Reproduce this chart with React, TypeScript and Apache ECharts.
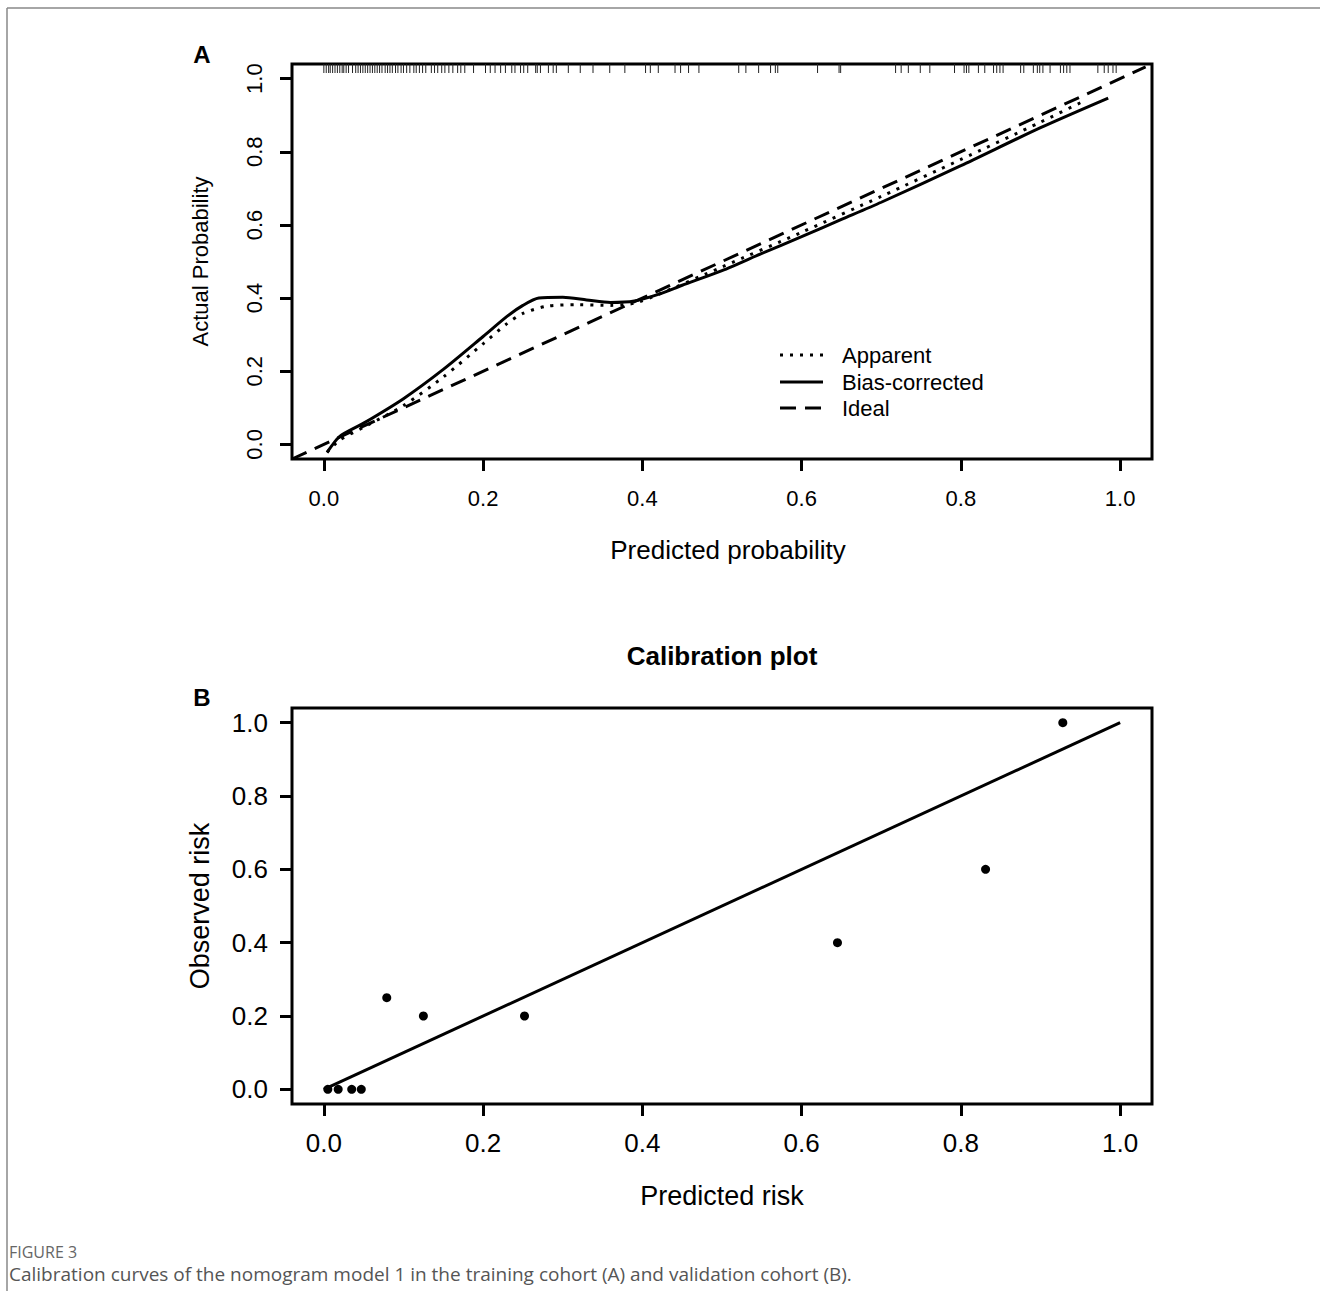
import React, { useEffect, useRef } from "react";
import * as echarts from "echarts";

const tickValues = [0, 0.2, 0.4, 0.6, 0.8, 1.0];

// Panel A: calibration curves
const apparentX = [0.004, 0.02, 0.05, 0.1, 0.15, 0.2, 0.23, 0.25, 0.28, 0.32, 0.36, 0.39, 0.42, 0.5, 0.6, 0.7, 0.8, 0.9, 0.95];
const apparentY = [-0.022, 0.012, 0.047, 0.106, 0.184, 0.275, 0.33, 0.358, 0.378, 0.382, 0.38, 0.386, 0.41, 0.485, 0.58, 0.678, 0.779, 0.881, 0.934];
const biasX = [0.004, 0.02, 0.05, 0.1, 0.15, 0.2, 0.23, 0.25, 0.27, 0.3, 0.33, 0.36, 0.39, 0.42, 0.45, 0.5, 0.55, 0.6, 0.65, 0.7, 0.8, 0.9, 0.985];
const biasY = [-0.022, 0.022, 0.058, 0.125, 0.205, 0.295, 0.35, 0.38, 0.4, 0.402, 0.395, 0.388, 0.392, 0.41, 0.435, 0.475, 0.522, 0.568, 0.615, 0.662, 0.762, 0.866, 0.947];
const idealX = [-0.04, 1.032];
const idealY = [-0.04, 1.032];
const rugX = [
  0.0, 0.003, 0.006, 0.008, 0.011, 0.014, 0.017, 0.02, 0.023, 0.025, 0.028, 0.031, 0.036, 0.04, 0.043,
  0.046, 0.049, 0.052, 0.055, 0.058, 0.061, 0.064, 0.067, 0.07, 0.073, 0.077, 0.08, 0.083, 0.086, 0.09,
  0.093, 0.097, 0.1, 0.104, 0.108, 0.113, 0.116, 0.12, 0.124, 0.128, 0.135, 0.139, 0.143, 0.148, 0.152,
  0.157, 0.162, 0.168, 0.172, 0.177, 0.188, 0.203, 0.209, 0.215, 0.222, 0.228, 0.236, 0.24, 0.247, 0.251,
  0.256, 0.266, 0.268, 0.272, 0.282, 0.288, 0.292, 0.307, 0.322, 0.338, 0.359, 0.378, 0.404, 0.41, 0.42,
  0.441, 0.448, 0.458, 0.471, 0.521, 0.53, 0.546, 0.561, 0.567, 0.57, 0.62, 0.647, 0.649, 0.718, 0.725,
  0.734, 0.749, 0.761, 0.792, 0.804, 0.807, 0.81, 0.822, 0.83, 0.841, 0.845, 0.849, 0.853, 0.875, 0.879,
  0.891, 0.896, 0.899, 0.903, 0.912, 0.925, 0.929, 0.933, 0.937, 0.972, 0.98, 0.985, 0.991, 0.995,
];

// Panel B: validation points
const predictedRisk = [0.005, 0.018, 0.035, 0.047, 0.079, 0.125, 0.252, 0.645, 0.831, 0.928];
const observedRisk = [0, 0, 0, 0, 0.25, 0.2, 0.2, 0.4, 0.6, 1.0];
const refLineX = [0, 1];
const refLineY = [0, 1];

const AXIS_MIN = -0.04;
const AXIS_MAX = 1.04;
const FONT = "'Liberation Sans', Arial, sans-serif";
const DOTTED = [3, 7];
const DASHED = [16, 9];

function zip(xs: number[], ys: number[]) {
  return xs.map((x, i) => [x, ys[i]]);
}

function makeXAxis(gridIndex: number, fontSize: number, name: string, nameSize: number, labelMargin: number, namePadLeft: number) {
  return {
    type: "value",
    gridIndex,
    min: AXIS_MIN,
    max: AXIS_MAX,
    name,
    nameLocation: "middle",
    nameGap: 78,
    nameTextStyle: { fontSize: nameSize, fontFamily: FONT, color: "#000", padding: [0, 0, 0, namePadLeft] },
    axisLine: { show: false, onZero: false },
    splitLine: { show: false },
    axisTick: { show: true, length: 12, customValues: tickValues, lineStyle: { color: "#000", width: 3 } },
    axisLabel: {
      customValues: tickValues,
      margin: labelMargin,
      fontSize,
      fontFamily: FONT,
      color: "#000",
      formatter: (v: number) => v.toFixed(1),
    },
  };
}

function makeYAxis(gridIndex: number, fontSize: number, name: string, nameSize: number, rotate: number, labelMargin: number, nameGap: number) {
  return {
    type: "value",
    gridIndex,
    min: AXIS_MIN,
    max: AXIS_MAX,
    name,
    nameLocation: "middle",
    nameGap,
    nameTextStyle: { fontSize: nameSize, fontFamily: FONT, color: "#000" },
    axisLine: { show: false, onZero: false },
    splitLine: { show: false },
    axisTick: { show: true, length: 12, customValues: tickValues, lineStyle: { color: "#000", width: 3 } },
    axisLabel: {
      customValues: tickValues,
      rotate,
      margin: labelMargin,
      fontSize,
      fontFamily: FONT,
      color: "#000",
      formatter: (v: number) => v.toFixed(1),
    },
  };
}

export default function App() {
  const ref = useRef<HTMLDivElement>(null);

  useEffect(() => {
    document.body.style.margin = "0";
    const chart = echarts.init(ref.current!, null, { renderer: "svg" });
    const legendRows = [
      { label: "Apparent", y: 355, dash: DOTTED as any },
      { label: "Bias-corrected", y: 382, dash: null as any },
      { label: "Ideal", y: 408, dash: DASHED as any },
    ];
    const graphic: any[] = [
      { type: "line", shape: { x1: 7, y1: 8, x2: 1320, y2: 8 }, style: { stroke: "#888", lineWidth: 1.5 } },
      { type: "line", shape: { x1: 7, y1: 8, x2: 7, y2: 1291 }, style: { stroke: "#888", lineWidth: 1.5 } },
      { type: "text", x: 202, y: 54, style: { text: "A", fontSize: 24, fontWeight: "bold", fontFamily: FONT, fill: "#000", align: "center", verticalAlign: "middle" } },
      { type: "text", x: 202, y: 697, style: { text: "B", fontSize: 24, fontWeight: "bold", fontFamily: FONT, fill: "#000", align: "center", verticalAlign: "middle" } },
      { type: "text", x: 722, y: 656, style: { text: "Calibration plot", fontSize: 26, fontWeight: "bold", fontFamily: FONT, fill: "#000", align: "center", verticalAlign: "middle" } },
      { type: "text", x: 9, y: 1252, style: { text: "FIGURE 3", fontSize: 16, fontFamily: "'Open Sans', sans-serif", fill: "#666", align: "left", verticalAlign: "middle" } },
      { type: "text", x: 9, y: 1274, style: { text: "Calibration curves of the nomogram model 1 in the training cohort (A) and validation cohort (B).", fontSize: 19, fontFamily: "'Open Sans', sans-serif", fill: "#555", align: "left", verticalAlign: "middle" } },
    ];
    legendRows.forEach((r) => {
      graphic.push({
        type: "line",
        shape: { x1: 780, y1: r.y, x2: 823, y2: r.y },
        style: { stroke: "#000", lineWidth: 3, lineDash: r.dash || undefined },
      });
      graphic.push({
        type: "text",
        x: 842,
        y: r.y,
        style: { text: r.label, fontSize: 22, fontFamily: FONT, fill: "#000", align: "left", verticalAlign: "middle" },
      });
    });

    chart.setOption({
      animation: false,
      backgroundColor: "#fff",
      grid: [
        { left: 292, top: 64, width: 860, height: 395, show: true, borderColor: "#000", borderWidth: 3, backgroundColor: "transparent" },
        { left: 292, top: 708, width: 860, height: 396, show: true, borderColor: "#000", borderWidth: 3, backgroundColor: "transparent" },
      ],
      xAxis: [
        makeXAxis(0, 22, "Predicted probability", 26, 28, 12),
        makeXAxis(1, 26, "Predicted risk", 27, 26, 0),
      ],
      yAxis: [
        makeYAxis(0, 22, "Actual Probability", 22, 90, 27, 81),
        makeYAxis(1, 26, "Observed risk", 27, 0, 24, 79),
      ],
      series: [
        {
          type: "custom",
          name: "rug",
          xAxisIndex: 0,
          yAxisIndex: 0,
          data: rugX.map((v) => [v]),
          encode: { x: 0 },
          renderItem: (params: any, api: any) => {
            const p = api.coord([api.value(0), AXIS_MAX]);
            return {
              type: "line",
              shape: { x1: p[0], y1: p[1], x2: p[0], y2: p[1] + 9 },
              style: { stroke: "#222", lineWidth: 1 },
            };
          },
        },
        {
          type: "line",
          name: "Ideal",
          xAxisIndex: 0,
          yAxisIndex: 0,
          data: zip(idealX, idealY),
          showSymbol: false,
          lineStyle: { color: "#000", width: 3, type: DASHED },
        },
        {
          type: "line",
          name: "Apparent",
          xAxisIndex: 0,
          yAxisIndex: 0,
          data: zip(apparentX, apparentY),
          showSymbol: false,
          smooth: 0.25,
          lineStyle: { color: "#000", width: 3, type: DOTTED },
        },
        {
          type: "line",
          name: "Bias-corrected",
          xAxisIndex: 0,
          yAxisIndex: 0,
          data: zip(biasX, biasY),
          showSymbol: false,
          smooth: 0.25,
          lineStyle: { color: "#000", width: 3 },
        },
        {
          type: "line",
          name: "Reference",
          xAxisIndex: 1,
          yAxisIndex: 1,
          data: zip(refLineX, refLineY),
          showSymbol: false,
          lineStyle: { color: "#000", width: 3 },
        },
        {
          type: "scatter",
          name: "Observed",
          xAxisIndex: 1,
          yAxisIndex: 1,
          data: zip(predictedRisk, observedRisk),
          symbol: "circle",
          symbolSize: 9,
          itemStyle: { color: "#000", opacity: 1 },
        },
      ],
      graphic,
    });
    return () => chart.dispose();
  }, []);

  return <div ref={ref} style={{ width: 1320, height: 1291 }} />;
}
